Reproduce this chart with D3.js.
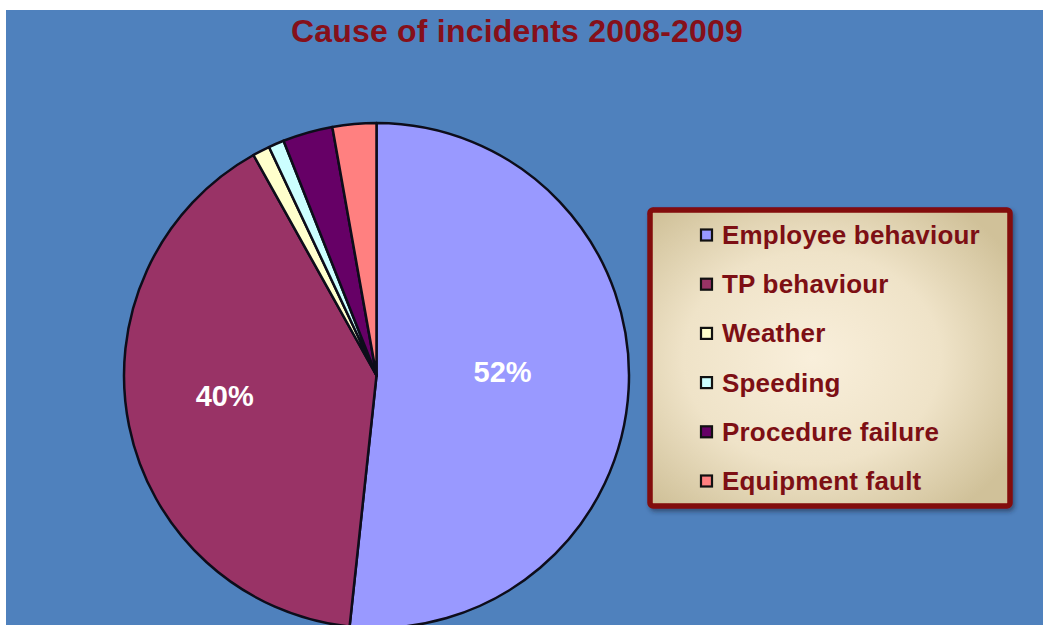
<!DOCTYPE html>
<html>
<head>
<meta charset="utf-8">
<script src="https://cdn.jsdelivr.net/npm/d3@7"></script>
<style>
  html, body { margin: 0; padding: 0; background: #ffffff; }
  svg { display: block; }
</style>
</head>
<body>
<svg id="chart" width="1043" height="625"></svg>
<script>
// Share of incidents by cause, 2008-2009 (percent)
const causes = ["Employee behaviour", "TP behaviour", "Weather", "Speeding", "Procedure failure", "Equipment fault"];
const shares = [51.7, 40.2, 1.1, 1.0, 3.2, 2.8];
const sliceColors = ["#9999ff", "#993366", "#ffffcc", "#ccffff", "#660066", "#ff8080"];
const chartTitle = "Cause of incidents 2008-2009";

const W = 1043, H = 625;
const svg = d3.select("#chart");
const defs = svg.append("defs");

// blue chart area
svg.append("rect").attr("x", 6).attr("y", 10).attr("width", W - 6).attr("height", H - 10)
  .attr("fill", "#4f81bd");

// title
svg.append("text")
  .attr("x", 517).attr("y", 42)
  .attr("text-anchor", "middle")
  .attr("font-family", "'Liberation Sans', Arial, sans-serif")
  .attr("font-weight", "bold")
  .attr("font-size", 32)
  .attr("letter-spacing", 0.2)
  .attr("fill", "#85101a")
  .text(chartTitle);

// pie
const cx = 376.5, cy = 375.5, R = 252.5;
const pie = d3.pie().sort(null).value(d => d.v);
const arcs = pie(causes.map((c, i) => ({ name: c, v: shares[i], color: sliceColors[i] })));
const arc = d3.arc().innerRadius(0).outerRadius(R);
const total = d3.sum(shares);

const g = svg.append("g").attr("transform", `translate(${cx},${cy})`);
g.selectAll("path.slice").data(arcs).join("path")
  .attr("class", "slice")
  .attr("d", arc)
  .attr("fill", d => d.data.color)
  .attr("stroke", "#0d0d1a")
  .attr("stroke-width", 2.5)
  .attr("stroke-linejoin", "round");

// percentage labels on the two large slices, placed near the area centroid of each slice
g.selectAll("text.pct").data(arcs.filter(d => d.data.v / total >= 0.1)).join("text")
  .attr("class", "pct")
  .attr("transform", d => {
    const half = (d.endAngle - d.startAngle) / 2;
    const mid = d.startAngle + half;
    const dist = 1.22 * (2 * R * Math.sin(half)) / (3 * half);
    return `translate(${dist * Math.sin(mid)},${-dist * Math.cos(mid)})`;
  })
  .attr("text-anchor", "middle")
  .attr("font-family", "'Liberation Sans', Arial, sans-serif")
  .attr("font-weight", "bold")
  .attr("font-size", 29)
  .attr("fill", "#ffffff")
  .text(d => d3.format(".0%")(d.data.v / total));

// legend box with warm radial fill
const lg = defs.append("radialGradient").attr("id", "legendFill")
  .attr("cx", "45%").attr("cy", "50%").attr("r", "65%");
lg.append("stop").attr("offset", "0%").attr("stop-color", "#f9efdb");
lg.append("stop").attr("offset", "55%").attr("stop-color", "#efe3c8");
lg.append("stop").attr("offset", "100%").attr("stop-color", "#d0c199");

const shadow = defs.append("filter").attr("id", "legendShadow")
  .attr("x", "-5%").attr("y", "-5%").attr("width", "115%").attr("height", "115%");
shadow.append("feDropShadow").attr("dx", 2).attr("dy", 3).attr("stdDeviation", 2)
  .attr("flood-color", "#1a2a40").attr("flood-opacity", 0.55);

const box = { x: 650, y: 210, w: 360, h: 296 };
svg.append("rect")
  .attr("x", box.x).attr("y", box.y).attr("width", box.w).attr("height", box.h)
  .attr("rx", 3)
  .attr("fill", "url(#legendFill)")
  .attr("stroke", "#820808")
  .attr("stroke-width", 5.5)
  .attr("filter", "url(#legendShadow)");

const rowY = d3.scalePoint().domain(causes).range([235, 481]);
const legend = svg.append("g");
const items = legend.selectAll("g.item").data(arcs).join("g")
  .attr("class", "item")
  .attr("transform", d => `translate(701,${rowY(d.data.name)})`);
items.append("rect")
  .attr("x", 0).attr("y", -5.5).attr("width", 11).attr("height", 11)
  .attr("fill", d => d.data.color)
  .attr("stroke", "#111111").attr("stroke-width", 2.2);
items.append("text")
  .attr("x", 21).attr("y", 9)
  .attr("font-family", "'Liberation Sans', Arial, sans-serif")
  .attr("font-weight", "bold")
  .attr("font-size", 26)
  .attr("letter-spacing", 0.2)
  .attr("fill", "#7d0f14")
  .text(d => d.data.name);
</script>
</body>
</html>
